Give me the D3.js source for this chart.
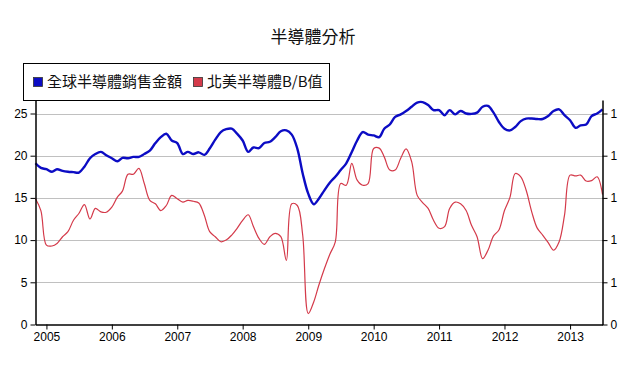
<!DOCTYPE html>
<html>
<head>
<meta charset="utf-8">
<script src="https://cdn.jsdelivr.net/npm/d3@7"></script>
<style>
  body { margin: 0; background: #fff; }
  text { font-family: "Liberation Sans", Arial, sans-serif; }
  .cjk { font-family: "Noto Sans CJK TC", "Noto Sans CJK SC", sans-serif; }
</style>
</head>
<body>
<svg id="chart" width="630" height="371"></svg>
<script>
// monthly data, Nov 2004 .. Jul 2013
var firstMonth = "2004-11-01";
var salesValues = [
  19.1, 18.55, 18.4, 18.1, 18.4, 18.2, 18.1, 18.05, 18.0, 18.7,
  19.7, 20.2, 20.45, 20.06, 19.7, 19.35, 19.75, 19.7, 19.86, 19.86,
  20.2, 20.6, 21.5, 22.2, 22.6, 21.8, 21.5, 20.2, 20.45, 20.2,
  20.4, 20.1, 20.85, 21.9, 22.8, 23.14, 23.2, 22.6, 21.8, 20.45,
  20.97, 20.9, 21.5, 21.65, 22.2, 22.9, 23.0, 22.5, 20.85, 17.9,
  15.5, 14.25, 14.9, 15.9, 16.8, 17.5, 18.3, 19.1, 20.45, 21.8,
  22.8, 22.5, 22.4, 22.2, 23.2, 23.7, 24.6, 24.9, 25.3, 25.8,
  26.3, 26.35, 26.0, 25.4, 25.4, 24.8, 25.4, 24.9, 25.3, 25.0,
  24.95, 25.1, 25.8, 25.9, 25.1, 24.0, 23.2, 23.0, 23.4, 24.1,
  24.4, 24.4, 24.35, 24.35, 24.7, 25.3, 25.5, 24.8, 24.2, 23.3,
  23.6, 23.7, 24.7, 25.0, 25.5
];
// B/B values, as drawn against the left grid
var bbValues = [
  14.9, 13.5, 9.4, 9.3, 9.6, 10.4, 11.0, 12.35, 13.15, 14.2,
  12.5, 13.75, 13.35, 13.3, 13.9, 15.1, 15.8, 17.8, 17.8, 18.5,
  16.7, 14.7, 14.3, 13.5, 14.1, 15.3, 14.9, 14.5, 14.7, 14.6,
  14.4, 12.95, 11.0, 10.4, 9.8, 10.0, 10.6, 11.4, 12.35, 13.0,
  11.6, 10.2, 9.5, 10.4, 10.8, 10.4, 7.6, 14.3, 14.1, 10.6,
  1.3, 2.7, 4.65, 6.6, 8.3, 9.8, 16.7, 16.5, 19.1, 17.1,
  16.5, 16.7, 20.85, 20.9, 19.86, 18.3, 18.3, 19.7, 20.8, 19.3,
  15.3, 14.45, 13.75, 12.35, 11.4, 11.6, 13.75, 14.5, 14.3, 13.5,
  11.75, 10.4, 7.8, 8.8, 10.5, 11.2, 13.5, 15.1, 17.9, 17.5,
  15.9, 13.35, 11.45, 10.6, 9.7, 8.8, 9.8, 12.95, 17.7, 17.6,
  17.7, 17.0, 17.05, 17.5, 15.4
];
var leftTicks = [0, 5, 10, 15, 20, 25];
var rightTickLabels = ["0", "1", "1", "1", "1", "1"];
var yearTicks = [2005, 2006, 2007, 2008, 2009, 2010, 2011, 2012, 2013];
var seriesNames = ["全球半導體銷售金額", "北美半導體B/B值"];
var seriesColors = ["#0c0cc4", "#d43a4a"];
var chartTitle = "半導體分析";

var svg = d3.select("#chart");
// plot box (window.top is reserved, so use prefixed names)
var plotLeft = 35.5, plotRight = 602.5, plotTop = 100, plotBottom = 324.5;

var start = d3.timeParse("%Y-%m-%d")(firstMonth);
var dates = salesValues.map(function(d, i) { return d3.timeMonth.offset(start, i); });

var x = d3.scaleTime()
  .domain([start, dates[dates.length - 1]])
  .range([plotLeft, plotRight]);
var y = d3.scaleLinear().domain([0, 26.6]).range([plotBottom, plotTop]);

// grid
svg.append("g")
  .selectAll("line")
  .data(leftTicks.filter(function(t) { return t > 0; }))
  .enter().append("line")
  .attr("x1", plotLeft).attr("x2", plotRight)
  .attr("y1", function(d) { return Math.round(y(d)) + 0.5; })
  .attr("y2", function(d) { return Math.round(y(d)) + 0.5; })
  .style("stroke", "#c0c0c0")
  .style("stroke-width", "1px");

// lines
var line = function(values) {
  return d3.line()
    .x(function(d, i) { return x(dates[i]); })
    .y(function(d) { return y(d); })
    .curve(d3.curveCatmullRom.alpha(0.5))(values);
};

svg.append("path")
  .attr("d", line(bbValues))
  .style("fill", "none")
  .style("stroke", seriesColors[1])
  .style("stroke-width", "1.2px");

svg.append("path")
  .attr("d", line(salesValues))
  .style("fill", "none")
  .style("stroke", seriesColors[0])
  .style("stroke-width", "2.4px");

// axes
var yearDates = yearTicks.map(function(yr) { return new Date(yr, 0, 1); });

var gx = svg.append("g")
  .attr("transform", "translate(0," + plotBottom + ")")
  .call(d3.axisBottom(x).tickValues(yearDates).tickFormat(d3.timeFormat("%Y"))
    .tickSize(5).tickSizeOuter(0).tickPadding(3));

var gl = svg.append("g")
  .attr("transform", "translate(" + plotLeft + ",0)")
  .call(d3.axisLeft(y).tickValues(leftTicks).tickSize(5).tickSizeOuter(0).tickPadding(3));

var gr = svg.append("g")
  .attr("transform", "translate(" + plotRight + ",0)")
  .call(d3.axisRight(y).tickValues(leftTicks)
    .tickFormat(function(d, i) { return rightTickLabels[i]; })
    .tickSize(5).tickSizeOuter(0).tickPadding(3));

[gx, gl, gr].forEach(function(g) {
  g.select(".domain").style("stroke", "#000").style("stroke-width", "1.5px");
  g.selectAll(".tick line").style("stroke", "#000");
  g.selectAll(".tick text")
    .style("font-family", "'Liberation Sans', Arial, sans-serif")
    .style("font-size", "12px")
    .style("fill", "#000");
});

// title
svg.append("text")
  .attr("class", "cjk")
  .attr("x", 313)
  .attr("y", 38)
  .attr("text-anchor", "middle")
  .attr("dominant-baseline", "middle")
  .style("font-size", "17px")
  .style("fill", "#111")
  .text(chartTitle);

// legend
var legend = svg.append("g");
legend.append("rect")
  .attr("x", 23.5).attr("y", 63.5)
  .attr("width", 306).attr("height", 37)
  .style("fill", "#fff")
  .style("stroke", "#000")
  .style("stroke-width", "1px");

var legendX = [33, 193];
seriesNames.forEach(function(name, i) {
  legend.append("rect")
    .attr("x", legendX[i] + 0.5).attr("y", 77.5)
    .attr("width", 9).attr("height", 9)
    .style("fill", seriesColors[i])
    .style("stroke", "#333")
    .style("stroke-width", "0.8px");
  legend.append("text")
    .attr("class", "cjk")
    .attr("x", legendX[i] + 14)
    .attr("y", 82.5)
    .attr("dominant-baseline", "middle")
    .style("font-size", "15px")
    .style("fill", "#111")
    .text(name);
});
</script>
</body>
</html>
